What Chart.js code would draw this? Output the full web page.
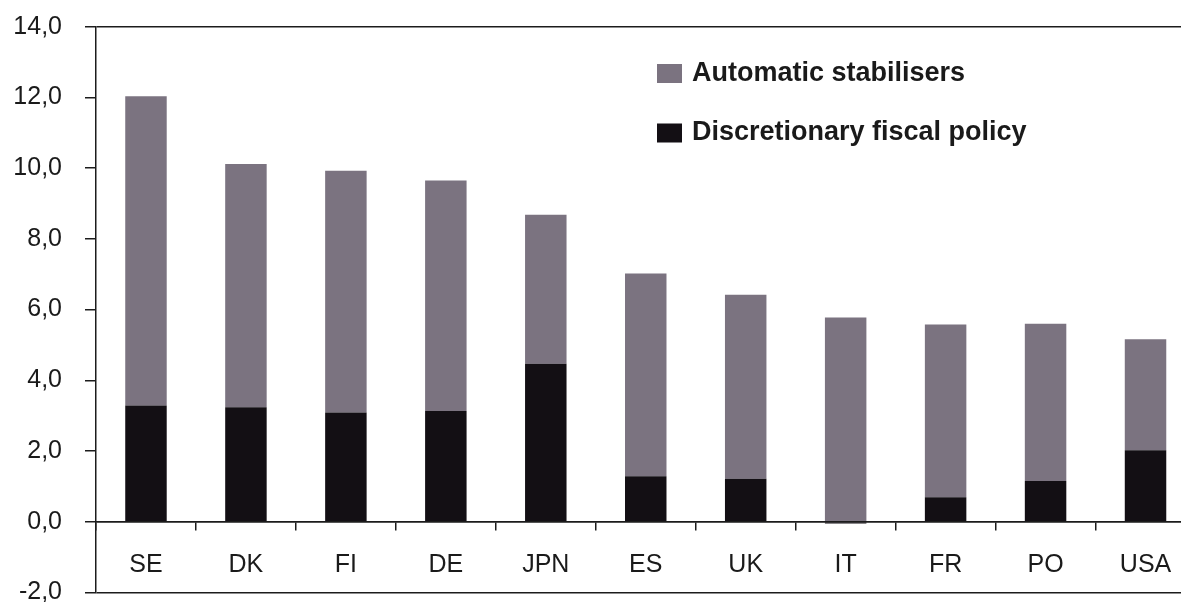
<!DOCTYPE html>
<html>
<head>
<meta charset="utf-8">
<script src="https://cdn.jsdelivr.net/npm/chart.js@4"></script>
<style>
  html, body { margin: 0; padding: 0; background: #fff; }
  #wrap { width: 1181px; height: 602px; overflow: hidden; position: relative; }
  canvas { display: block; }
</style>
</head>
<body>
<div id="wrap"><canvas id="chart" width="1222" height="614"></canvas></div>
<script>
const countries     = ['SE', 'DK', 'FI', 'DE', 'JPN', 'ES', 'UK', 'IT', 'FR', 'PO', 'USA'];
const discretionary = [3.29, 3.24, 3.09, 3.13, 4.47, 1.29, 1.22, -0.05, 0.69, 1.15, 2.02];
const automatic     = [8.74, 6.88, 6.84, 6.52, 4.21, 5.73, 5.20, 5.78, 4.89, 4.45, 3.14];
const yTicks        = [-2, 0, 2, 4, 6, 8, 10, 12, 14];

const COLORS = {
  grey:  '#7b7380',
  black: '#130f14',
  line:  '#1c1c1c',
  text:  '#1a1a1a',
};

Chart.defaults.font.family = "'Liberation Sans', Arial, sans-serif";
Chart.defaults.color = COLORS.text;

// legend drawn inside the plot, grey entry on top
const inlineLegend = {
  id: 'inlineLegend',
  afterDraw(chart, args, opts) {
    const ctx = chart.ctx;
    const items = chart.data.datasets.slice().reverse();
    ctx.save();
    ctx.font = opts.font;
    ctx.textBaseline = 'middle';
    items.forEach((ds, i) => {
      const y = opts.y + i * opts.rowGap;
      ctx.fillStyle = ds.backgroundColor;
      ctx.fillRect(opts.x, y - opts.boxH / 2, opts.boxW, opts.boxH);
      ctx.fillStyle = opts.color;
      ctx.fillText(ds.label, opts.x + opts.boxW + opts.gap, y);
    });
    ctx.restore();
  },
};

const frameAt = v => (v === 14 || v === -2 || v === 0) ? COLORS.line : 'rgba(0,0,0,0)';

new Chart(document.getElementById('chart').getContext('2d'), {
  type: 'bar',
  data: {
    labels: countries,
    datasets: [
      {
        label: 'Discretionary fiscal policy',
        data: discretionary,
        backgroundColor: COLORS.black,
        borderWidth: 0,
        barPercentage: 0.415,
        categoryPercentage: 1,
      },
      {
        label: 'Automatic stabilisers',
        data: automatic,
        backgroundColor: COLORS.grey,
        borderWidth: 0,
        barPercentage: 0.415,
        categoryPercentage: 1,
      },
    ],
  },
  plugins: [inlineLegend],
  options: {
    responsive: false,
    animation: false,
    layout: { padding: { left: 0, top: 26.7, right: 26.5, bottom: 21.5 } },
    plugins: {
      legend: { display: false },
      tooltip: { enabled: false },
      inlineLegend: {
        x: 657, y: 73.5, rowGap: 59.5, boxW: 25, boxH: 19, gap: 10,
        font: "bold 27px 'Liberation Sans', Arial, sans-serif",
        color: COLORS.text,
      },
    },
    scales: {
      x: {
        stacked: true,
        position: { y: 0 },
        grid: { drawOnChartArea: false, drawTicks: true, tickLength: 8, color: COLORS.line, lineWidth: 1.5, offset: true },
        border: { display: true, color: COLORS.line, width: 1.5 },
        ticks: { font: { size: 25 }, color: COLORS.text, padding: 20 },
      },
      y: {
        stacked: true,
        min: -2,
        max: 14,
        afterBuildTicks: s => { s.ticks = yTicks.map(v => ({ value: v })); },
        afterFit: s => { s.width = 96; s.paddingTop = 0; s.paddingBottom = 0; },
        grid: {
          color: c => frameAt(c.tick && c.tick.value),
          tickColor: COLORS.line,
          lineWidth: 1.5,
          tickLength: 11,
        },
        border: { display: true, color: COLORS.line, width: 1.5 },
        ticks: {
          font: { size: 25 },
          color: COLORS.text,
          padding: 23,
          callback: v => v.toFixed(1).replace('.', ','),
        },
      },
    },
  },
});
</script>
</body>
</html>
